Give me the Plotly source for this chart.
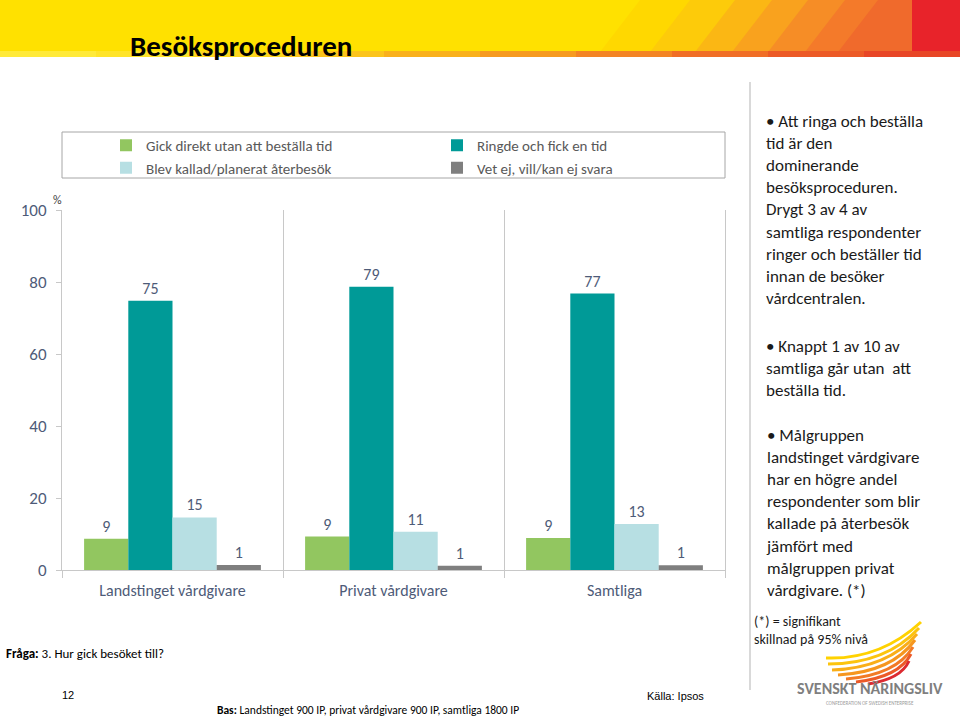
import plotly.graph_objects as go

# ---------------- data ----------------
categories = ["Landstinget vårdgivare", "Privat vårdgivare", "Samtliga"]
series_names = [
    "Gick direkt utan att beställa tid",
    "Ringde och fick en tid",
    "Blev kallad/planerat återbesök",
    "Vet ej, vill/kan ej svara",
]
gick_direkt = [8.7, 9.3, 8.9]
ringde = [74.8, 78.7, 76.8]
kallad = [14.6, 10.6, 12.8]
vet_ej = [1.4, 1.2, 1.3]
y_ticks = [0, 20, 40, 60, 80, 100]

series_values = [gick_direkt, ringde, kallad, vet_ej]
series_colors = ["#92C660", "#009A97", "#B7DFE3", "#7F7F7F"]
series_legend = ["legend", "legend2", "legend", "legend2"]

# ---------------- geometry helpers (pixel -> paper) ----------------
W, H = 960, 717
L, R, T, B = 62, 725, 210, 570


def X(px):
    return (px - L) / (R - L)


def Y(py):
    return (B - py) / (B - T)


FONT = "Carlito, Lato, sans-serif"
SLATE = "#4E5B78"

fig = go.Figure()
for name, vals, col, lg in zip(series_names, series_values, series_colors, series_legend):
    fig.add_trace(go.Bar(
        x=categories, y=vals, name=name, marker=dict(color=col, line=dict(width=0)),
        texttemplate="%{y:.0f}", textposition="outside",
        textfont=dict(family=FONT, size=16, color=SLATE),
        cliponaxis=False, legend=lg,
    ))

shapes = []
# header band
shapes.append(dict(type="rect", xref="paper", yref="paper", x0=X(0), x1=X(960), y0=Y(52), y1=Y(0),
                   fillcolor="#FFE100", line=dict(width=0), layer="below"))
stripe_starts = [640, 690, 735, 772, 808, 845, 878]
stripe_cols = ["#FFD800", "#FDCB0A", "#FBB714", "#F9A21E", "#F68D26", "#F47A2A", "#F06A2C"]
for xs, c in zip(stripe_starts, stripe_cols):
    path = "M {},{} L {},{} L {},{} L {},{} Z".format(
        X(xs), Y(0), X(912), Y(0), X(912), Y(52), X(xs - 40), Y(52))
    shapes.append(dict(type="path", xref="paper", yref="paper", path=path,
                       fillcolor=c, line=dict(width=0), layer="below"))
shapes.append(dict(type="rect", xref="paper", yref="paper", x0=X(912), x1=X(960), y0=Y(52), y1=Y(0),
                   fillcolor="#E8232A", line=dict(width=0), layer="below"))
# bottom strip of header
strip_cols = ["#FFEA3A", "#FFE42A", "#FDD61E", "#FBC41C", "#F9B01C", "#F69A20", "#F38424",
              "#F06E26", "#EC5A26", "#E84626"]
for i, c in enumerate(strip_cols):
    shapes.append(dict(type="rect", xref="paper", yref="paper", x0=X(i * 96), x1=X((i + 1) * 96),
                       y0=Y(57), y1=Y(51), fillcolor=c, line=dict(width=0), layer="below"))
# legend frame
shapes.append(dict(type="rect", xref="paper", yref="paper", x0=X(62), x1=X(725), y0=Y(178), y1=Y(132),
                   line=dict(color="#A6A6A6", width=1), fillcolor="rgba(0,0,0,0)"))
# right panel divider
shapes.append(dict(type="line", xref="paper", yref="paper", x0=X(750), x1=X(750), y0=Y(690), y1=Y(82),
                   line=dict(color="#D9D9D9", width=2)))
# logo wing strokes
wing = [
    ((826, 658), (880, 660), (921, 622), "#FFD200", 3),
    ((828, 664), (886, 664), (919, 628), "#FCC40E", 3),
    ((832, 670), (888, 668), (917, 634), "#F9AE18", 3),
    ((838, 675), (892, 672), (915, 640), "#F6961F", 3),
    ((846, 679), (896, 675), (913, 647), "#F27A26", 3),
    ((856, 682), (899, 677), (911, 654), "#EC5A28", 3),
    ((868, 684), (901, 679), (909, 661), "#DC2A30", 3),
]
for (x0, y0), (cx, cy), (x1, y1), c, w in wing:
    path = "M {},{} Q {},{} {},{}".format(X(x0), Y(y0), X(cx), Y(cy), X(x1), Y(y1))
    shapes.append(dict(type="path", xref="paper", yref="paper", path=path,
                       line=dict(color=c, width=w)))

ann = []


def add_text(px, py, text, size, color="#1A1A1A", xanchor="left", yanchor="middle", family=FONT, align="left"):
    ann.append(dict(x=X(px), y=Y(py), xref="paper", yref="paper", text=text, showarrow=False,
                    xanchor=xanchor, yanchor=yanchor, align=align,
                    font=dict(family=family, size=size, color=color)))


add_text(128, 46, "<b>Besöksproceduren</b>", 29, color="#000000")
add_text(51, 200, "%", 12, color="#404040")

block1 = ("• Att ringa och beställa<br>tid är den<br>dominerande<br>besöksproceduren.<br>"
          "Drygt 3 av 4 av<br>samtliga respondenter<br>ringer och beställer tid<br>"
          "innan de besöker<br>vårdcentralen.")
block2 = "• Knappt 1 av 10 av<br>samtliga går utan  att<br>beställa tid."
block3 = ("• Målgruppen<br>landstinget vårdgivare<br>har en högre andel<br>respondenter som blir<br>"
          "kallade på återbesök<br>jämfört med<br>målgruppen privat<br>vårdgivare. (*)")
add_text(764, 109, block1, 17, yanchor="top")
add_text(764, 334, block2, 17, yanchor="top")
add_text(764, 423, block3, 17, yanchor="top")
add_text(752, 611, "(*) = signifikant<br>skillnad på 95% nivå", 14, yanchor="top")

add_text(870, 688, "<b>SVENSKT NÄRINGSLIV</b>", 16, color="#7F7F7F", xanchor="center")
add_text(870, 703, "CONFEDERATION OF SWEDISH ENTERPRISE", 5, color="#9A9A9A", xanchor="center")

add_text(4, 653, "<b>Fråga:</b> 3. Hur gick besöket till?", 13, color="#000000")
add_text(60, 695, "12", 11, color="#000000", family="Liberation Sans, Arial, sans-serif")
add_text(645, 696, "Källa: Ipsos", 11, color="#000000", family="Liberation Sans, Arial, sans-serif")
add_text(215, 710, "<b>Bas:</b> Landstinget 900 IP, privat vårdgivare 900 IP, samtliga 1800 IP", 11.5,
         color="#000000")

fig.update_layout(
    width=W, height=H, autosize=False,
    margin=dict(l=L, r=W - R, t=T, b=H - B, pad=0),
    paper_bgcolor="white", plot_bgcolor="white",
    barmode="group", bargap=0.2, bargroupgap=0,
    font=dict(family=FONT, color=SLATE),
    shapes=shapes, annotations=ann,
    legend=dict(x=X(106), y=Y(129), xanchor="left", yanchor="top", orientation="v",
                font=dict(family=FONT, size=15, color="#595959"), itemwidth=30,
                bgcolor="rgba(0,0,0,0)", borderwidth=0, traceorder="normal"),
    legend2=dict(x=X(437), y=Y(129), xanchor="left", yanchor="top", orientation="v",
                 font=dict(family=FONT, size=15, color="#595959"), itemwidth=30,
                 bgcolor="rgba(0,0,0,0)", borderwidth=0, traceorder="normal"),
    showlegend=True,
)
fig.update_xaxes(
    type="category", tickson="boundaries", showgrid=True, gridcolor="#C8C8C8", gridwidth=1,
    ticks="outside", ticklen=7, tickcolor="#C8C8C8", showline=True, linecolor="#C8C8C8",
    tickfont=dict(family=FONT, size=16, color=SLATE), ticklabelstandoff=6, fixedrange=True,
)
fig.update_yaxes(
    range=[0, 100], tickvals=y_ticks, showgrid=False, zeroline=False, showline=True, mirror=True,
    linecolor="#C8C8C8", ticks="outside", ticklen=5, tickcolor="#C8C8C8",
    tickfont=dict(family=FONT, size=17, color=SLATE), ticklabelstandoff=6,
)

fig.write_html("out.html", config={"displayModeBar": False},
               post_script="document.body.style.margin='0';document.body.style.overflow='hidden';")
